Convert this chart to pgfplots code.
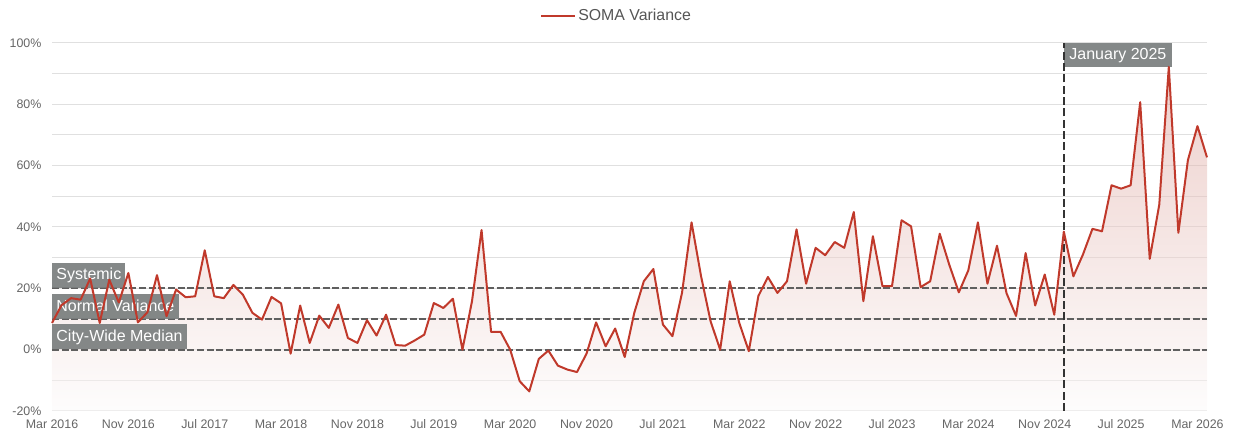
\documentclass[border=0pt]{standalone}
\usepackage{fontspec}
\setmainfont{Liberation Sans}
\usepackage{pgfplots}
\pgfplotsset{compat=1.18}
\usepackage{pgfplotstable}

\definecolor{somared}{RGB}{192,57,43}
\definecolor{gridc}{RGB}{224,224,224}
\definecolor{tickc}{RGB}{102,102,102}
\definecolor{legc}{RGB}{85,85,85}
\definecolor{refc}{RGB}{95,95,95}
\definecolor{boxc}{RGB}{122,126,126}
\definecolor{vline}{RGB}{51,51,51}
\definecolor{filltop}{RGB}{220,160,152}
\definecolor{fillbot}{RGB}{252,250,250}

\pgfplotstableread{
x y
0 8.7
1 14.5
2 16.8
3 16.3
4 23.2
5 8.7
6 22.8
7 15.4
8 25.0
9 8.9
10 12.2
11 24.3
12 10.9
13 19.6
14 17.1
15 17.4
16 32.4
17 17.4
18 16.8
19 21.1
20 17.9
21 12.0
22 9.8
23 17.2
24 15.1
25 -1.3
26 14.4
27 2.2
28 11.1
29 7.1
30 14.7
31 3.8
32 2.2
33 9.6
34 4.6
35 11.4
36 1.5
37 1.3
38 3.0
39 4.9
40 15.2
41 13.6
42 16.6
43 0.0
44 15.8
45 39.0
46 5.8
47 5.8
48 0.0
49 -10.3
50 -13.6
51 -3.0
52 -0.3
53 -5.2
54 -6.5
55 -7.3
56 -1.3
57 8.9
58 1.1
59 6.9
60 -2.4
61 12.0
62 22.3
63 26.3
64 8.2
65 4.4
66 18.5
67 41.5
68 23.9
69 9.2
70 0.0
71 22.3
72 8.7
73 -0.5
74 17.5
75 23.7
76 18.5
77 22.3
78 39.2
79 21.5
80 33.2
81 30.8
82 35.1
83 33.2
84 44.9
85 15.8
86 37.0
87 20.7
88 20.7
89 42.2
90 40.2
91 20.4
92 22.3
93 37.8
94 27.7
95 18.7
96 25.9
97 41.5
98 21.5
99 33.9
100 18.4
101 11.0
102 31.5
103 14.4
104 24.5
105 11.4
106 38.5
107 23.9
108 31.0
109 39.4
110 38.6
111 53.6
112 52.5
113 53.6
114 80.7
115 29.6
116 47.3
117 92.2
118 38.1
119 61.8
120 72.9
121 62.7
}\soma

\begin{document}
\begin{tikzpicture}
\useasboundingbox (-39pt,-15.75pt) rectangle (885.75pt,308.25pt);
\begin{axis}[
  at={(0,0)}, anchor=south west,
  scale only axis, width=866.25pt, height=276pt,
  xmin=0, xmax=121, ymin=-20, ymax=100,
  axis line style={draw=none},
  major tick length=0pt, minor tick length=0pt,
  xtick={0,8,...,120},
  xticklabels={Mar 2016,Nov 2016,Jul 2017,Mar 2018,Nov 2018,Jul 2019,Mar 2020,Nov 2020,Jul 2021,Mar 2022,Nov 2022,Jul 2023,Mar 2024,Nov 2024,Jul 2025,Mar 2026},
  ytick={-20,0,20,40,60,80,100},
  yticklabels={-20\%,0\%,20\%,40\%,60\%,80\%,100\%},
  minor ytick={-10,10,30,50,70,90},
  ymajorgrids, yminorgrids,
  major grid style={gridc, line width=0.75pt},
  minor grid style={gridc, line width=0.75pt},
  tick label style={font=\fontsize{9.3}{10}\selectfont, text=tickc},
  xticklabel style={anchor=base, inner sep=0pt, yshift=-13.2pt},
  yticklabel style={anchor=east, inner sep=0pt, xshift=-7.8pt},
  clip=false,
  legend style={at={(axis description cs:0.4225,1.0743)}, anchor=west, draw=none, fill=none, inner sep=0pt, font=\fontsize{11.9}{13}\selectfont, text=legc},
  legend image code/.code={\path (0pt,0pt) -- (25pt,0pt); \draw[#1, line width=1.1pt] (0pt,0pt) -- (21.75pt,0pt);},
]
\addplot[draw=none, top color=filltop, bottom color=fillbot, fill opacity=0.5, forget plot] table[x=x,y=y]{\soma} -- (axis cs:121,-20) -- (axis cs:0,-20) -- cycle;

\addplot[refc, line width=1.3pt, dash pattern=on 5.25pt off 2pt, forget plot] coordinates {(0,20) (121,20)};
\addplot[refc, line width=1.3pt, dash pattern=on 5.25pt off 2pt, forget plot] coordinates {(0,10) (121,10)};
\addplot[refc, line width=1.3pt, dash pattern=on 5.25pt off 2pt, forget plot] coordinates {(0,0) (121,0)};

\node[anchor=south west, fill=boxc, fill opacity=0.92, text opacity=1, text=white, font=\fontsize{12}{14}\selectfont, inner xsep=3.1pt, inner ysep=0pt, minimum height=18.75pt] at (axis cs:0,20) {Systemic};
\node[anchor=south west, fill=boxc, fill opacity=0.92, text opacity=1, text=white, font=\fontsize{12}{14}\selectfont, inner xsep=3.1pt, inner ysep=0pt, minimum height=18.75pt] at (axis cs:0,10) {Normal Variance};
\node[anchor=south west, fill=boxc, fill opacity=0.92, text opacity=1, text=white, font=\fontsize{12}{14}\selectfont, inner xsep=3.1pt, inner ysep=0pt, minimum height=18.75pt] at (axis cs:0,0) {City-Wide Median};
\node[anchor=north west, fill=boxc, fill opacity=0.92, text opacity=1, text=white, font=\fontsize{12}{14}\selectfont, inner xsep=4pt, inner ysep=0pt, minimum height=18pt] at (axis cs:106,100) {January 2025};

\addplot[vline, line width=1.5pt, dash pattern=on 6pt off 2.5pt, forget plot] coordinates {(106,-20) (106,100)};

\addplot[somared, line width=1.5pt, line join=round] table[x=x,y=y]{\soma};
\addlegendentry{SOMA Variance}
\end{axis}
\end{tikzpicture}
\end{document}
